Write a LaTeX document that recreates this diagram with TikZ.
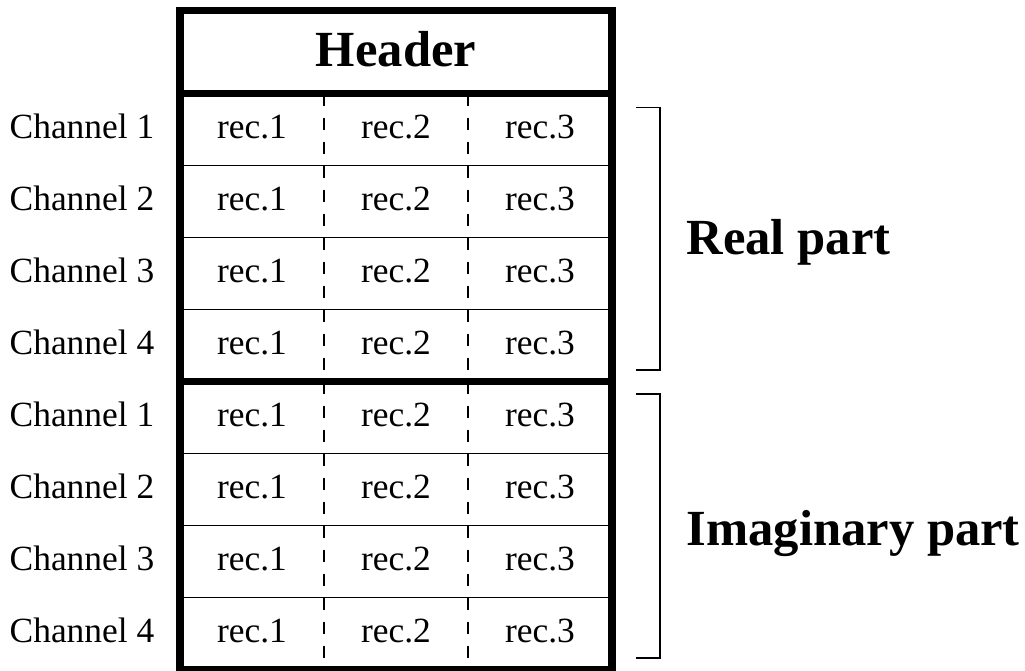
\documentclass[tikz,border=0pt]{standalone}
\usepackage{fontspec}
\setmainfont{Liberation Serif}
\usepackage{tikz}
\usetikzlibrary{calc}

\tikzset{
  frame/.style={line width=2.8pt},
  rowline/.style={line width=0.5pt},
  recsep/.style={line width=0.8pt, dash pattern=on 4.74pt off 4.74pt},
  bracket/.style={line width=0.6pt},
  cell/.style={anchor=base, inner sep=0pt, font=\fontsize{14}{16}\selectfont},
  chan/.style={anchor=base east, inner sep=0pt, font=\fontsize{14}{16}\selectfont},
  part/.style={anchor=base west, inner sep=0pt, font=\fontsize{20}{24}\selectfont\bfseries},
}

\begin{document}
\begin{tikzpicture}
  \useasboundingbox (0,0) rectangle (14.236,-9.319);
  % records, one row per channel
  \foreach \r [evaluate=\r as \ch using {int(mod(\r-1,4)+1)}] in {1,...,8} {
    \pgfmathsetmacro{\yt}{-0.3-\r}
    \draw[recsep] (4.5,\yt) -- (4.5,\yt-1);
    \draw[recsep] (6.5,\yt) -- (6.5,\yt-1);
    \node[chan] (ch-\r) at (2.15,\yt-0.63) {Channel \ch};
    \node[cell] (rec-\r-1) at (3.5,\yt-0.63) {rec.1};
    \node[cell] (rec-\r-2) at (5.5,\yt-0.63) {rec.2};
    \node[cell] (rec-\r-3) at (7.5,\yt-0.63) {rec.3};
  }
  \foreach \y in {-2.3,-3.3,-4.3,-6.3,-7.3,-8.3}
    \draw[rowline] (2.5,\y) -- (8.5,\y);
  % outer frame and header
  \draw[frame] (2.5,-0.14) rectangle (8.5,-9.3);
  \draw[frame] (2.5,-1.3) -- (8.5,-1.3);
  \draw[frame] (2.5,-5.3) -- (8.5,-5.3);
  \node[cell, font=\fontsize{20}{24}\selectfont\bfseries] (header) at (5.5,-0.926) {Header};
  % brackets
  \draw[bracket] (8.83,-1.49) -- (9.17,-1.49) -- (9.17,-5.14) -- (8.83,-5.14);
  \draw[bracket] (8.83,-5.47) -- (9.17,-5.47) -- (9.17,-9.14) -- (8.83,-9.14);
  \node[part] (real) at (9.53,-3.54) {Real part};
  \node[part] (imag) at (9.53,-7.57) {Imaginary part};
\end{tikzpicture}
\end{document}
